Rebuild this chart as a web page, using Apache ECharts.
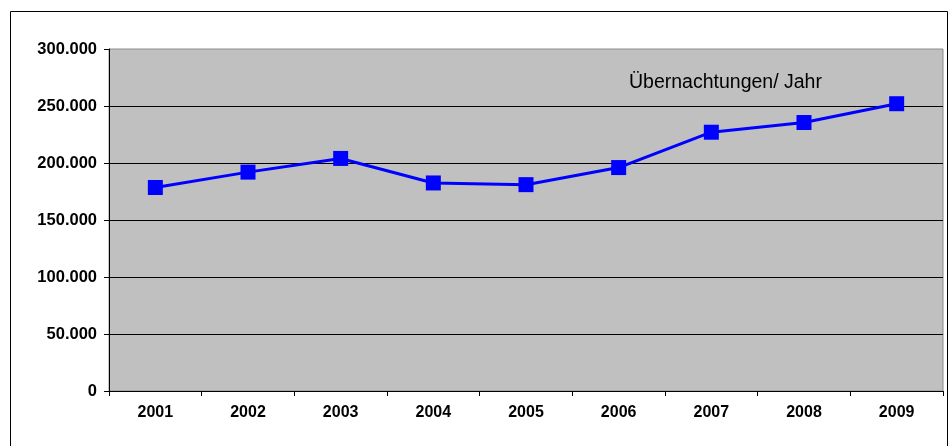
<!DOCTYPE html>
<html>
<head>
<meta charset="utf-8">
<script src="https://cdn.jsdelivr.net/npm/echarts@6/dist/echarts.min.js"></script>
<style>
  html, body { margin: 0; padding: 0; background: #fff; }
  #chart { width: 951px; height: 446px; }
</style>
</head>
<body>
<div id="chart"></div>
<script>
// data
var years = ['2001', '2002', '2003', '2004', '2005', '2006', '2007', '2008', '2009'];
var stays = [178500, 192000, 204000, 182500, 181000, 196000, 227000, 235500, 252000];
var seriesName = 'Übernachtungen/ Jahr';

var chartDom = document.getElementById('chart');
var myChart = echarts.init(chartDom);
var option;

function fmt(v) {
    // German thousands separator
    return v === 0 ? '0' : String(v).replace(/\B(?=(\d{3})+(?!\d))/g, '.');
}

option = {
    animation: false,
    textStyle: { fontFamily: 'Liberation Sans, Arial, sans-serif' },
    grid: {
        left: 109,
        right: 8,
        top: 49,
        bottom: 55,
        show: true,
        backgroundColor: '#C0C0C0',
        borderColor: '#8c8c8c',
        borderWidth: 1
    },
    graphic: [
        {
            type: 'rect',
            shape: { x: 10.5, y: 11.5, width: 937, height: 440 },
            style: { fill: null, stroke: '#000', lineWidth: 1 },
            silent: true,
            z: -10
        },
        {
            type: 'text',
            left: 629,
            top: 73,
            style: {
                text: seriesName,
                fill: '#000',
                font: '19.5px "Liberation Sans", Arial, sans-serif'
            },
            z: 10
        }
    ],
    xAxis: {
        type: 'category',
        data: years,
        boundaryGap: true,
        axisLine: { lineStyle: { color: '#000', width: 1 } },
        axisTick: { show: true, length: 5, lineStyle: { color: '#000' } },
        axisLabel: {
            color: '#000',
            fontWeight: 'bold',
            fontSize: 16,
            margin: 14
        }
    },
    yAxis: {
        type: 'value',
        min: 0,
        max: 300000,
        interval: 50000,
        axisLine: { show: true, lineStyle: { color: '#000', width: 1 } },
        axisTick: { show: true, length: 5, lineStyle: { color: '#000' } },
        axisLabel: {
            color: '#000',
            fontWeight: 'bold',
            fontSize: 16.5,
            margin: 12,
            formatter: fmt
        },
        splitLine: {
            show: true,
            showMaxLine: false,
            lineStyle: { color: '#000', width: 1 }
        }
    },
    series: [
        {
            name: seriesName,
            type: 'line',
            data: stays,
            symbol: 'rect',
            symbolSize: 15,
            color: '#0000FF',
            lineStyle: { color: '#0000FF', width: 3 },
            itemStyle: { color: '#0000FF' }
        }
    ]
};

option && myChart.setOption(option);
</script>
</body>
</html>
